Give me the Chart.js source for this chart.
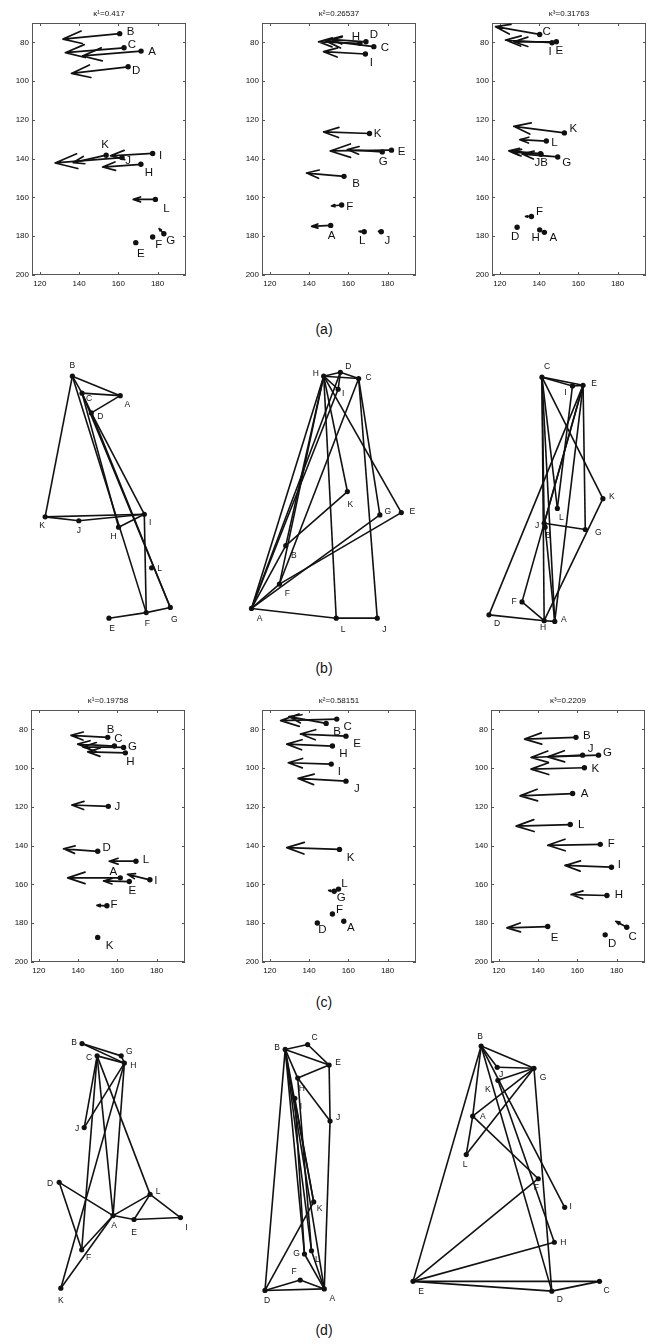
<!DOCTYPE html>
<html>
<head>
<meta charset="utf-8">
<script src="https://cdn.jsdelivr.net/npm/chart.js@4.4.1/dist/chart.umd.min.js"></script>
<style>
body{margin:0;width:649px;height:1344px;position:relative;overflow:hidden;background:#fff;font-family:"Liberation Sans",Arial,sans-serif}
canvas{position:absolute}
.cap{position:absolute;left:294px;width:60px;text-align:center;font-size:14px;line-height:16px;color:#111}
</style>
</head>
<body>
<div class="cap" style="top:321px">(a)</div>
<div class="cap" style="top:660px">(b)</div>
<div class="cap" style="top:994px">(c)</div>
<div class="cap" style="top:1322px">(d)</div>
<script>
// node names, same order in every panel
const nodeNames = ['A','B','C','D','E','F','G','H','I','J','K','L'];
const xTicks = [120, 140, 160, 180];
const yTicks = [80, 100, 120, 140, 160, 180, 200];

// row (a): point positions and arrow tips
const a1X = [171.6,160.7,162.9,165,168.9,177.5,183.2,171.5,177.5,161.9,153.8,178.9];
const a1Y = [84.5,75.5,82.8,92.6,183.3,180.4,178.7,142.9,137.3,139.4,138.2,161];
const a1TipX = [141.7,131.8,133,136.1,null,null,180.8,152,156,127.8,137,167.6];
const a1TipY = [87,78.3,85.3,96,null,null,176.1,144.3,138.5,142.2,142,161];

const a2X = [151,157.8,173,169,182,156.6,177.3,165.9,168.7,176.8,170.8,168.1];
const a2Y = [174.4,149.1,82.2,79.7,135.6,163.9,136.5,80.5,86,177.7,127,177.7];
const a2TipX = [141.3,138.7,148.2,150.8,150.8,151.4,159.5,144.8,147.4,175.4,147.4,165.5];
const a2TipY = [174.9,147.4,79.1,78.4,136,164.4,135.3,79.7,84.8,177.5,126.2,177.5];

const a3X = [142.7,141,140.3,128.8,148.8,136.1,149.5,140.3,146.6,140.7,152.9,143.7];
const a3Y = [178,137.7,75.9,175.4,79.7,169.8,139.1,176.7,80.2,137.4,126.7,130.9];
const a3TipX = [null,126,117.8,null,127.1,133.1,131.3,null,122.9,124.6,127.1,130.2];
const a3TipY = [null,136.5,71.9,null,79.7,169.8,137.6,null,78.8,136,123.3,130.2];

// row (c)
const c1X = [161.5,155.1,158.5,150,166.1,154.7,163.2,164.1,176.6,155.4,150,169.5];
const c1Y = [156.6,84.1,88.6,142.9,158.5,171,89.3,92.1,157.6,119.7,187.3,148];
const c1TipX = [134.7,136.4,139.8,132.6,153,149.6,142.4,144.9,165.2,136.8,null,155.9];
const c1TipY = [156.6,83.1,87.6,141.6,158.2,170.8,89,91.6,154.8,119,null,148];

const c2X = [157.7,148.7,154.1,144.2,158.8,151.9,152.8,151.9,151.3,158.8,155.5,155];
const c2Y = [179,76.9,74.7,179.9,83.5,175.2,163.5,88.6,97.9,106.7,141.9,162.4];
const c2TipX = [null,129.7,125.5,null,135.6,null,150,128.6,129.4,134.4,128.6,null];
const c2TipY = [null,73.4,75.5,null,82.4,null,163.1,87.6,97.2,105.3,141,null];

const c3X = [157.6,159.3,185.2,174.2,144.9,171.7,170.8,175.1,177.4,162.7,163.6,156.4];
const c3Y = [113.1,84.1,182.1,186,181.7,139.3,93.3,165.7,151.1,93.3,99.8,129.1];
const c3TipX = [130.8,133.1,179.6,null,124.1,144.9,144.9,156.8,153.7,136.4,136.4,128.8];
const c3TipY = [114.3,85,179,null,182.4,139.8,94.2,165.2,150.2,94.5,100.5,129.9];

const titlesA = ['\u03ba\u00b9=0.417', '\u03ba\u00b2=0.26537', '\u03ba\u00b3=0.31763'];
const titlesC = ['\u03ba\u00b9=0.19758', '\u03ba\u00b2=0.58151', '\u03ba\u00b3=0.2209'];

// rows (b) and (d): graph layouts (no axes) and their edges
const b1X = [120.7,71,81,90.7,109,147.7,172.7,119,145.7,77.7,42.7,153.3];
const b1Y = [63.3,43.3,60.7,81,291.7,286,280.7,198.3,185,191.7,187.7,240];
const b1Edges = ['BA','BC','CA','AD','CD','BK','KJ','JI','KI','HI','BF','CH','DI','DG','CG','IF','EF','FG'];

const b2X = [32.7,68.3,144,125,188.3,61.7,166,107.7,122.7,163.3,132.3,120.7];
const b2Y = [281.7,217.3,45.7,39.3,183.3,256.7,185.7,43.3,56.7,291.7,161.7,291.7];
const b2Edges = ['HD','DC','HC','HI','DI','AH','AD','AI','AB','AF','AL','LJ','AG','FE','BK','HB','HF','HK','HL','HE','CG','CJ','CF'];

const b3X = [123.3,113.3,110,55,152.7,89.3,155,112.3,141.7,112.3,173.3,126];
const b3Y = [295,198.3,44.3,288.3,52.7,275,200.7,294.3,53.3,194.3,169,179];
const b3Edges = ['CI','CE','IE','CJ','CH','CL','CA','CK','EG','EF','ED','EJ','IL','EA','JG','KH','DH','FH','HA','BA'];

const d1X = [113.3,81,96.7,57.3,135,80.7,121.7,125,183.3,83.3,59,151.7];
const d1Y = [226.7,50.7,63.3,192.7,230.7,261.7,63.3,70.7,228.7,136.7,301,205];
const d1Edges = ['BG','BH','CH','CJ','HJ','CF','HK','CA','HA','CL','DA','DF','AL','AE','LE','LI','EI','AF','AK','GH'];

const d2X = [108.3,67.7,91,46.7,113.3,83.3,87.7,80.7,77.7,114.3,97.3,95];
const d2Y = [301.7,56.7,51.7,303.3,72.7,292.7,266,86,106.7,130,212.7,262.7];
const d2Edges = ['BC','CE','BE','BH','HE','HJ','EJ','JA','BD','BK','BL','BG','BA','IG','HL','DK','DA','DF','FA','GA','LA','IK'];

const d3X = [71,79.7,202,152.7,9.3,138.7,134.3,155.3,166,96.3,97,64.3];
const d3Y = [125,53.3,294,304,294,189,76,254,218.3,75,88.3,164.3];
const d3Edges = ['BG','JG','BJ','BA','AL','BE','BI','BD','KG','AG','LG','AF','GD','FE','HE','ED','EC','DC','KH'];

// label placement (pixels, A..L)
const shift = {
  a1: [[11,1],[11,-2],[8,-3],[8,4],[5,11],[6,8],[7,7],[8,9],[8,2],[6,3],[-1,-10],[11,9]],
  a2: [[1,10],[12,7],[11,1],[8,-7],[10,2],[8,2],[1,10],[-4,-7],[6,9],[6,9],[8,0],[-2,9]],
  a3: [[9,5],[3,9],[7,-3],[-2,10],[3,9],[8,-5],[9,6],[-4,8],[-2,9],[-3,9],[9,-4],[8,2]],
  c1: [[-7,-6],[3,-8],[4,-7],[9,-3],[3,9],[7,-1],[9,-1],[5,9],[6,1],[9,0],[12,8],[10,-1]],
  c2: [[7,7],[11,8],[11,8],[5,7],[11,8],[7,-4],[7,7],[11,8],[8,8],[11,8],[11,8],[6,-5]],
  c3: [[12,0],[11,-2],[6,10],[7,9],[7,11],[11,-1],[9,-2],[12,-1],[8,-2],[8,-6],[11,1],[11,0]],
  b1: [[7,9],[0,-11],[7,6],[9,4],[3,10],[1,11],[4,12],[-5,9],[6,8],[0,10],[-3,9],[8,1]],
  b2: [[8,10],[8,10],[10,-1],[8,-6],[11,-1],[8,10],[8,-3],[-8,-3],[5,4],[7,11],[3,13],[7,11]],
  b3: [[9,-2],[3,8],[5,-11],[8,9],[11,-2],[-8,0],[13,3],[-1,7],[-7,7],[-7,2],[9,-2],[4,9]],
  d1: [[1,10],[-8,-1],[-8,2],[-9,1],[0,13],[7,8],[8,-4],[9,3],[6,10],[-7,1],[0,12],[8,-3]],
  d2: [[8,10],[-8,-2],[7,-7],[2,10],[9,-2],[-6,-8],[-8,0],[4,11],[6,8],[8,-3],[6,7],[6,9]],
  d3: [[10,0],[-1,-9],[7,9],[8,9],[8,10],[-2,9],[9,9],[9,0],[6,-1],[4,7],[-10,9],[-1,10]]
};

const ink = '#111';
const fam = '"Liberation Sans", Arial, sans-serif';

function addCanvas(left, top, w, h) {
  const c = document.createElement('canvas');
  c.width = w; c.height = h;
  c.style.left = left + 'px'; c.style.top = top + 'px';
  c.style.width = w + 'px'; c.style.height = h + 'px';
  document.body.appendChild(c);
  return c;
}

// quiver panel with MATLAB style box
function quiverPanel(boxLeft, boxTop, title, px, py, tx, ty, offs) {
  const cv = addCanvas(boxLeft - 32, boxTop - 23, 196, 295);
  const pts = nodeNames.map((n, i) => ({x: px[i], y: py[i]}));
  const decor = {
    id: 'decor',
    afterDatasetsDraw(chart) {
      const {ctx, chartArea: a, scales: {x, y}} = chart;
      ctx.save();
      // box and inward ticks
      ctx.strokeStyle = '#555'; ctx.lineWidth = 1;
      ctx.strokeRect(a.left + 0.5, a.top + 0.5, a.width - 1, a.height - 1);
      ctx.beginPath();
      x.ticks.forEach(t => {
        const p = Math.round(x.getPixelForValue(t.value)) + 0.5;
        ctx.moveTo(p, a.bottom); ctx.lineTo(p, a.bottom - 3);
        ctx.moveTo(p, a.top); ctx.lineTo(p, a.top + 3);
      });
      y.ticks.forEach(t => {
        const p = Math.round(y.getPixelForValue(t.value)) + 0.5;
        ctx.moveTo(a.left, p); ctx.lineTo(a.left + 3, p);
        ctx.moveTo(a.right, p); ctx.lineTo(a.right - 3, p);
      });
      ctx.stroke();
      // title
      ctx.fillStyle = ink; ctx.font = '8px ' + fam;
      ctx.textAlign = 'center'; ctx.textBaseline = 'middle';
      ctx.fillText(title, (a.left + a.right) / 2, a.top - 9);
      // arrows
      ctx.beginPath(); ctx.rect(a.left, a.top, a.width, a.height); ctx.clip();
      ctx.strokeStyle = ink; ctx.lineWidth = 1.7; ctx.lineJoin = 'round'; ctx.lineCap = 'round';
      px.forEach((v, i) => {
        if (tx[i] == null) return;
        const x0 = x.getPixelForValue(v), y0 = y.getPixelForValue(py[i]);
        const x1 = x.getPixelForValue(tx[i]), y1 = y.getPixelForValue(ty[i]);
        const dx = x1 - x0, dy = y1 - y0, L = Math.hypot(dx, dy);
        if (L < 0.5) return;
        const ux = dx / L, uy = dy / L, back = 0.33 * L, side = 0.11 * L;
        ctx.beginPath();
        ctx.moveTo(x0, y0); ctx.lineTo(x1, y1);
        ctx.moveTo(x1 - ux * back - uy * side, y1 - uy * back + ux * side);
        ctx.lineTo(x1, y1);
        ctx.lineTo(x1 - ux * back + uy * side, y1 - uy * back - ux * side);
        ctx.stroke();
      });
      ctx.restore();
      // point names
      ctx.save();
      ctx.fillStyle = ink; ctx.font = '11.5px ' + fam;
      ctx.textAlign = 'center'; ctx.textBaseline = 'middle';
      nodeNames.forEach((n, i) => {
        ctx.fillText(n, x.getPixelForValue(px[i]) + offs[i][0], y.getPixelForValue(py[i]) + offs[i][1]);
      });
      ctx.restore();
    }
  };
  new Chart(cv, {
    type: 'scatter',
    data: {datasets: [{data: pts, pointRadius: 2.7, pointBackgroundColor: ink, pointBorderWidth: 0}]},
    options: {
      responsive: false, animation: false, devicePixelRatio: 1,
      layout: {padding: {top: 23, right: 10, left: 0, bottom: 0}},
      plugins: {legend: {display: false}, tooltip: {enabled: false}},
      scales: {
        x: {
          type: 'linear', min: 116, max: 194.5,
          grid: {display: false, drawTicks: false}, border: {display: false},
          afterBuildTicks: s => { s.ticks = xTicks.map(v => ({value: v})); },
          afterFit: s => { s.height = 20; },
          ticks: {color: ink, font: {size: 8, family: fam}, padding: 4, maxRotation: 0, autoSkip: false}
        },
        y: {
          type: 'linear', min: 70, max: 200, reverse: true,
          grid: {display: false, drawTicks: false}, border: {display: false},
          afterBuildTicks: s => { s.ticks = yTicks.map(v => ({value: v})); },
          afterFit: s => { s.width = 32; },
          ticks: {color: ink, font: {size: 8, family: fam}, padding: 3, autoSkip: false}
        }
      }
    },
    plugins: [decor]
  });
}

// graph drawing panel: nodes and edges, no axes
function graphPanel(left, top, w, h, gx, gy, edges, offs) {
  const cv = addCanvas(left, top, w, h);
  const idx = n => nodeNames.indexOf(n);
  const sets = edges.map(e => ({
    data: [{x: gx[idx(e[0])], y: gy[idx(e[0])]}, {x: gx[idx(e[1])], y: gy[idx(e[1])]}],
    showLine: true, pointRadius: 0, borderColor: ink, borderWidth: 1.6, clip: false
  }));
  sets.push({
    data: nodeNames.map((n, i) => ({x: gx[i], y: gy[i]})),
    pointRadius: 2.6, pointBackgroundColor: ink, pointBorderWidth: 0, showLine: false, clip: false
  });
  const names = {
    id: 'names',
    afterDatasetsDraw(chart) {
      const {ctx, scales: {x, y}} = chart;
      ctx.save();
      ctx.fillStyle = ink; ctx.font = '8.5px ' + fam;
      ctx.textAlign = 'center'; ctx.textBaseline = 'middle';
      nodeNames.forEach((n, i) => {
        ctx.fillText(n, x.getPixelForValue(gx[i]) + offs[i][0], y.getPixelForValue(gy[i]) + offs[i][1]);
      });
      ctx.restore();
    }
  };
  new Chart(cv, {
    type: 'scatter',
    data: {datasets: sets},
    options: {
      responsive: false, animation: false, devicePixelRatio: 1,
      layout: {padding: 0},
      plugins: {legend: {display: false}, tooltip: {enabled: false}},
      scales: {
        x: {type: 'linear', display: false, min: 0, max: w},
        y: {type: 'linear', display: false, min: 0, max: h, reverse: true}
      }
    },
    plugins: [names]
  });
}

quiverPanel(32, 23, titlesA[0], a1X, a1Y, a1TipX, a1TipY, shift.a1);
quiverPanel(262, 23, titlesA[1], a2X, a2Y, a2TipX, a2TipY, shift.a2);
quiverPanel(492, 23, titlesA[2], a3X, a3Y, a3TipX, a3TipY, shift.a3);

graphPanel(0, 330, 216, 310, b1X, b1Y, b1Edges, shift.b1);
graphPanel(216, 330, 216, 310, b2X, b2Y, b2Edges, shift.b2);
graphPanel(432, 330, 217, 310, b3X, b3Y, b3Edges, shift.b3);

quiverPanel(31, 710, titlesC[0], c1X, c1Y, c1TipX, c1TipY, shift.c1);
quiverPanel(262, 710, titlesC[1], c2X, c2Y, c2TipX, c2TipY, shift.c2);
quiverPanel(491, 710, titlesC[2], c3X, c3Y, c3TipX, c3TipY, shift.c3);

graphPanel(0, 990, 216, 354, d1X, d1Y, d1Edges, shift.d1);
graphPanel(216, 990, 216, 354, d2X, d2Y, d2Edges, shift.d2);
graphPanel(400, 990, 249, 354, d3X, d3Y, d3Edges, shift.d3);
</script>
</body>
</html>
